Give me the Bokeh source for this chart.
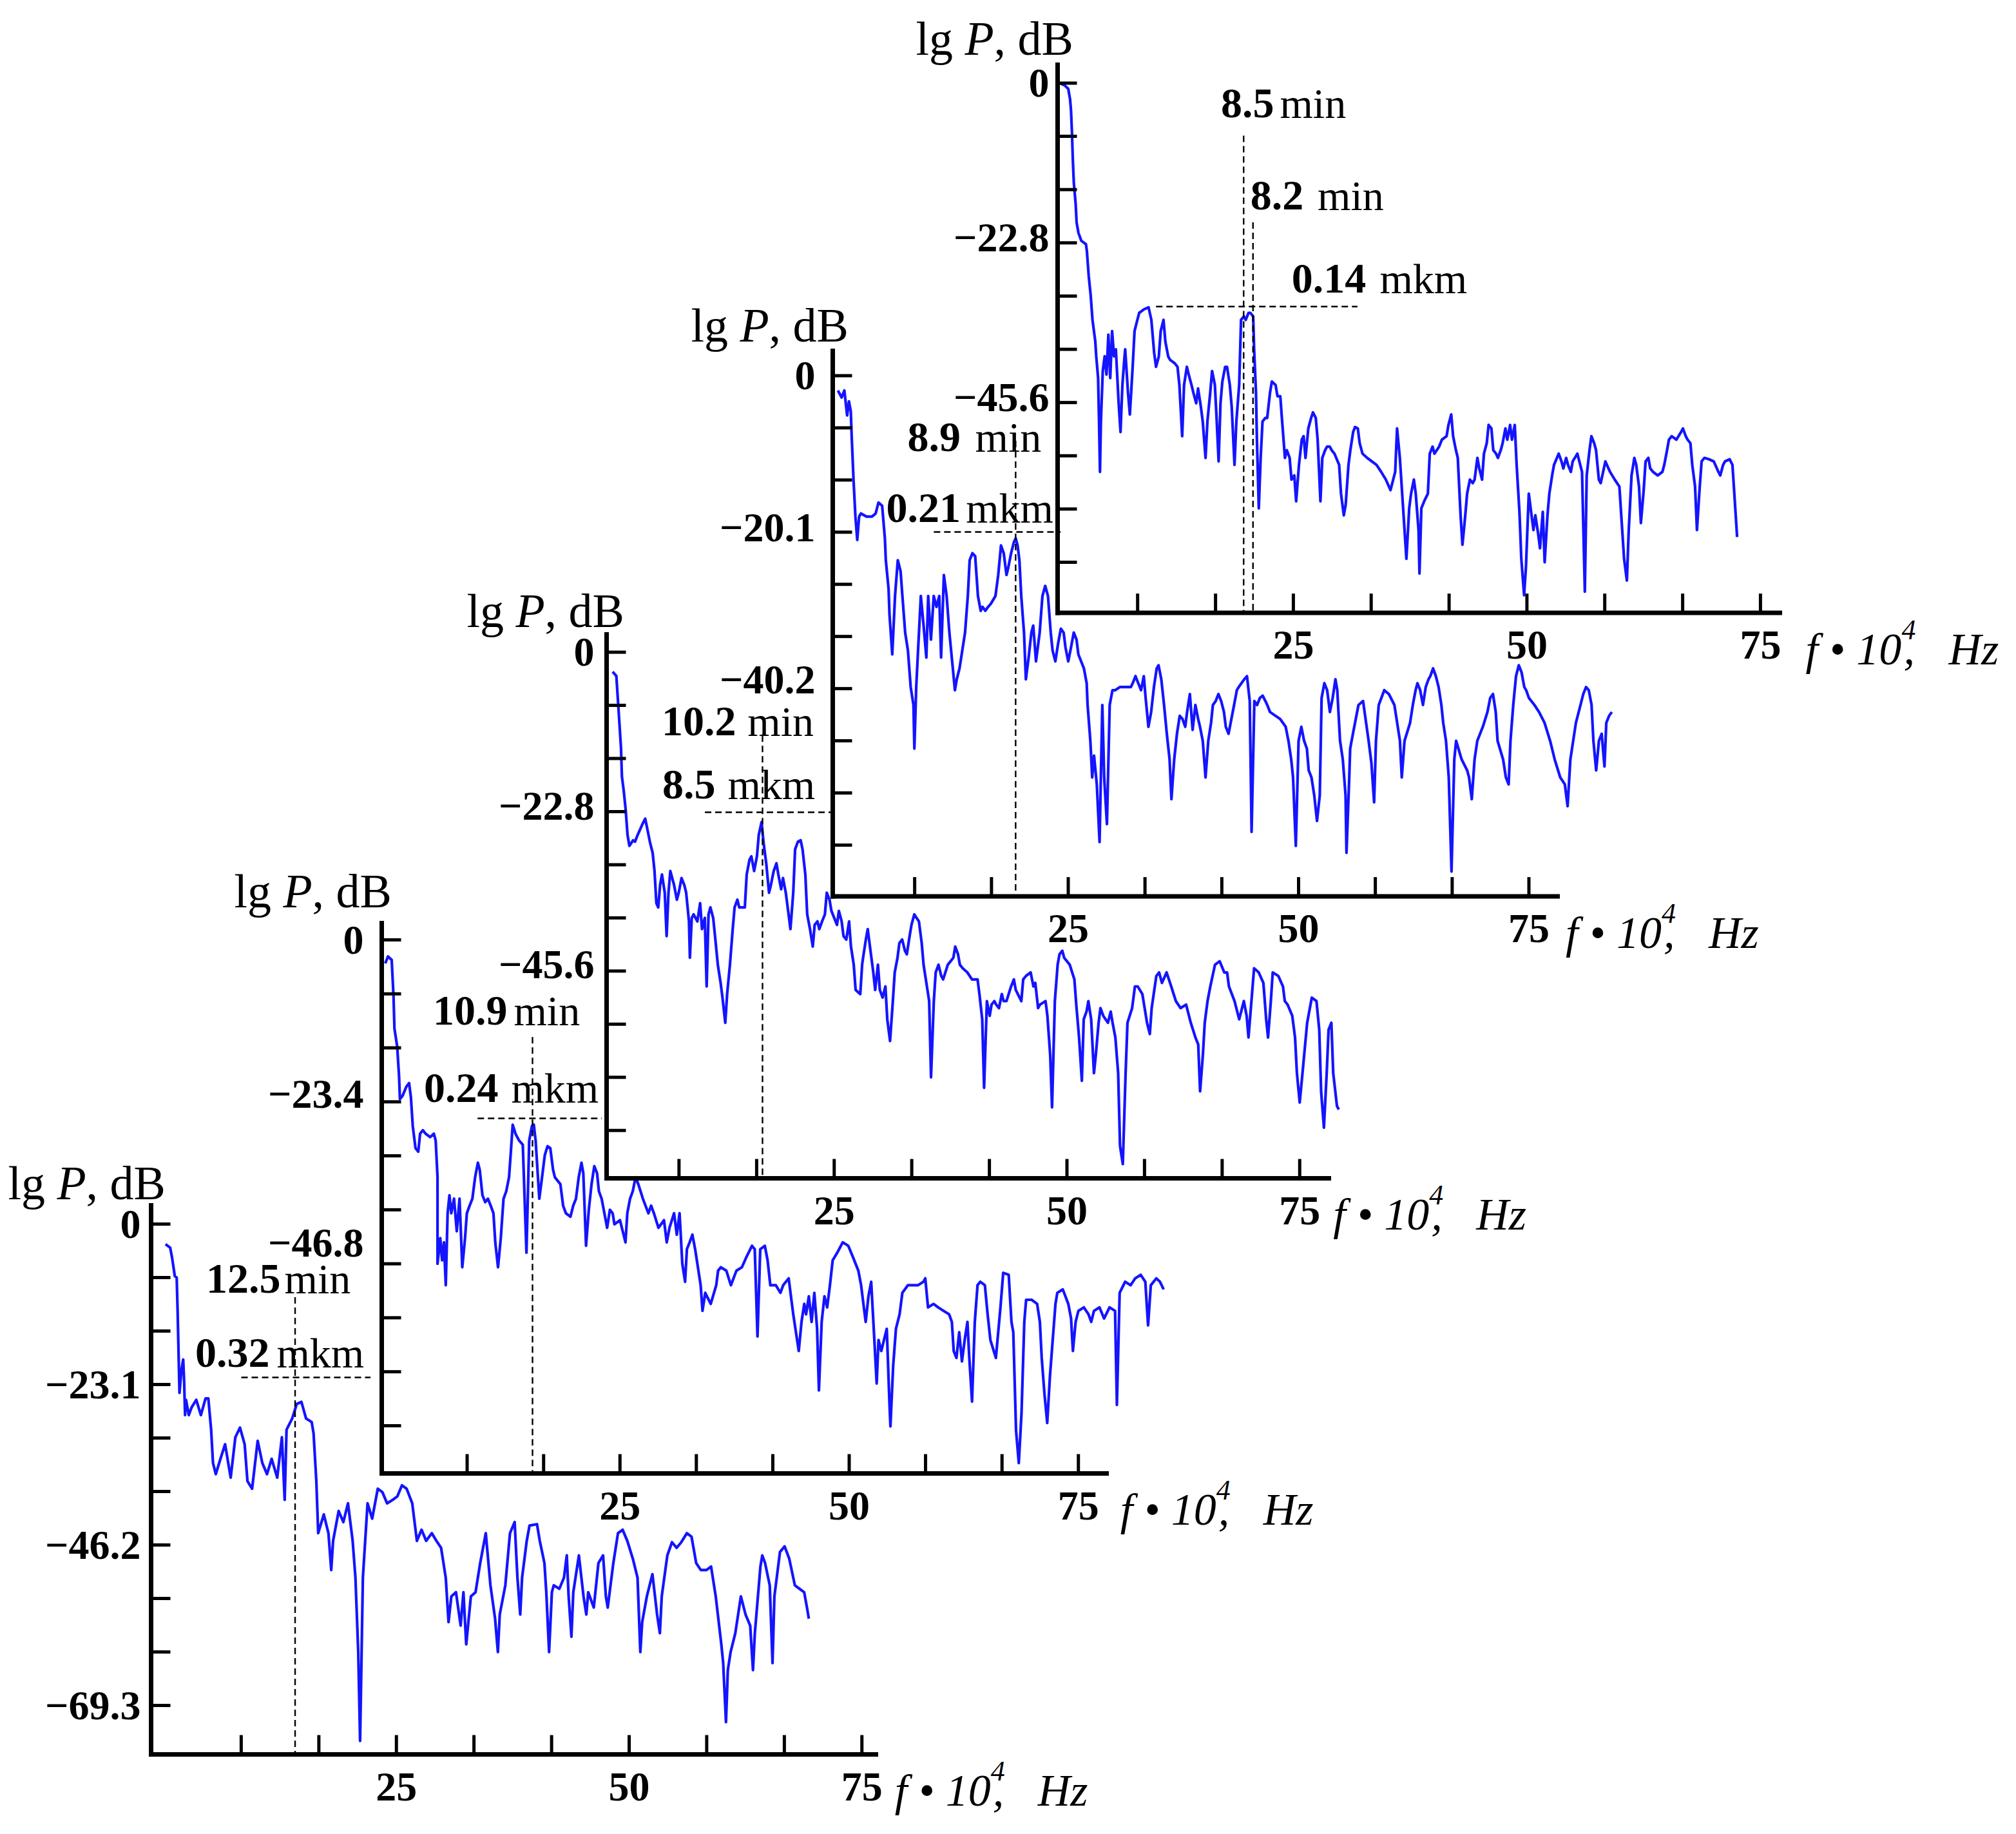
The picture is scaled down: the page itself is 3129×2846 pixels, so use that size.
from bokeh.plotting import figure
from bokeh.models import Range1d
from bokeh.embed import file_html
from bokeh.resources import INLINE
from bokeh.core.properties import value

# ----------------------------------------------------------------- data
# spectra: (f * 1e-4 Hz, lg P dB), one list per panel
P1_SPECTRUM = [(0.2,-2.9),(0.7,-3.4),(0.9,-4.8),(1.2,-7.5),(1.4,-7.7),(1.5,-12.5),(1.6,-18.4),(1.7,-24.3),(1.9,-21.1),(2.1,-19.5),(2.2,-22.7),(2.3,-27.5),(2.4,-25.3),(2.7,-27.5),(3.0,-26.4),(3.5,-25.3),(4.0,-27.5),(4.5,-25.1),(4.8,-25.1),(5.1,-29.6),(5.3,-34.4),(5.6,-36.0),(6.1,-33.8),(6.6,-31.7),(7.2,-36.5),(7.7,-30.7),(8.2,-29.3),(8.7,-31.7),(9.0,-37.0),(9.5,-38.1),(10.1,-31.2),(10.6,-34.4),(11.1,-36.0),(11.6,-33.8),(12.2,-36.5),(12.7,-30.7),(13.0,-39.7),(13.2,-29.6),(13.8,-28.0),(14.3,-25.9),(14.8,-25.6),(15.3,-28.0),(15.9,-28.5),(16.1,-30.1),(16.4,-37.0),(16.6,-44.5),(17.2,-41.8),(17.7,-44.5),(18.0,-49.8),(18.2,-45.6),(18.8,-41.3),(19.3,-42.9),(19.8,-40.2),(20.3,-45.6),(20.6,-50.9),(20.9,-61.6),(21.1,-74.4),(21.4,-50.9),(21.9,-40.2),(22.4,-42.4),(23.0,-38.1),(23.5,-38.6),(24.0,-40.2),(24.6,-39.7),(25.1,-39.2),(25.6,-37.6),(26.1,-38.1),(26.7,-40.2),(27.2,-45.6),(27.7,-44.0),(28.2,-45.6),(28.8,-44.5),(29.3,-45.6),(29.8,-46.6),(30.3,-50.9),(30.6,-57.3),(30.9,-53.6),(31.4,-53.0),(31.9,-57.8),(32.2,-53.0),(32.5,-60.5),(33.0,-53.6),(33.5,-53.0),(34.0,-48.8),(34.6,-44.5),(35.1,-52.0),(35.6,-56.8),(35.9,-61.6),(36.1,-56.2),(36.7,-52.0),(37.2,-44.5),(37.7,-42.9),(38.0,-50.9),(38.3,-56.2),(38.5,-50.9),(39.0,-45.6),(39.3,-43.4),(40.1,-43.2),(40.4,-45.6),(40.9,-48.8),(41.1,-53.0),(41.4,-61.6),(41.7,-53.0),(41.9,-52.0),(42.5,-52.5),(43.0,-50.9),(43.3,-47.7),(43.5,-53.6),(43.8,-59.4),(44.0,-53.0),(44.6,-47.7),(45.1,-53.6),(45.4,-56.2),(45.6,-53.0),(46.2,-55.2),(46.7,-48.8),(47.2,-47.7),(47.5,-53.6),(47.7,-55.2),(48.3,-48.8),(48.8,-44.5),(49.3,-44.0),(49.8,-45.6),(50.4,-48.2),(50.9,-50.9),(51.2,-61.6),(51.4,-57.3),(51.9,-53.6),(52.5,-50.4),(53.0,-56.2),(53.3,-58.9),(53.5,-53.6),(54.1,-47.7),(54.6,-45.8),(55.1,-46.6),(55.6,-45.8),(56.2,-44.5),(56.7,-45.0),(57.2,-48.8),(57.7,-49.8),(58.3,-49.8),(58.8,-49.3),(59.3,-53.6),(59.9,-60.5),(60.1,-63.2),(60.4,-71.7),(60.6,-64.2),(60.9,-61.6),(61.4,-58.9),(62.0,-53.6),(62.5,-56.2),(63.0,-57.8),(63.3,-64.2),(63.5,-58.9),(64.1,-49.3),(64.3,-47.7),(64.6,-48.8),(65.1,-52.0),(65.4,-63.2),(65.6,-53.6),(66.2,-47.2),(66.7,-46.4),(67.2,-48.2),(67.8,-52.0),(68.3,-52.5),(68.8,-53.0),(69.1,-55.2),(69.3,-56.8)]

P2_SPECTRUM = [(-0.6,-3.4),(-0.3,-2.4),(0.1,-2.9),(0.3,-8.1),(0.4,-12.8),(0.7,-15.4),(0.9,-19.6),(1.0,-23.0),(1.3,-22.5),(1.7,-21.2),(2.0,-20.7),(2.2,-22.8),(2.4,-26.9),(2.7,-30.1),(3.0,-30.6),(3.2,-28.0),(3.5,-27.5),(3.8,-28.0),(4.3,-28.5),(4.7,-28.0),(4.9,-29.0),(5.1,-34.3),(5.1,-46.8),(5.4,-43.1),(5.6,-46.3),(5.8,-43.7),(6.0,-49.9),(6.2,-39.5),(6.4,-36.9),(6.6,-39.5),(6.9,-37.4),(7.2,-42.1),(7.5,-37.4),(7.8,-47.3),(8.1,-43.1),(8.3,-39.5),(8.6,-38.4),(8.9,-37.4),(9.2,-34.3),(9.5,-32.2),(9.7,-33.2),(10.0,-36.9),(10.3,-37.9),(10.6,-37.4),(10.9,-38.4),(11.2,-39.5),(11.4,-43.7),(11.7,-47.3),(12.0,-43.1),(12.3,-37.4),(12.6,-36.3),(12.9,-34.3),(13.1,-30.6),(13.3,-26.7),(13.6,-28.0),(14.0,-29.0),(14.4,-29.6),(14.8,-45.2),(15.1,-29.0),(15.4,-26.9),(15.6,-26.7),(15.8,-29.0),(16.2,-37.4),(16.5,-34.3),(16.8,-31.1),(17.1,-29.8),(17.4,-30.1),(17.7,-33.2),(17.9,-34.3),(18.5,-35.3),(18.8,-38.4),(19.1,-39.5),(19.6,-40.0),(19.9,-38.4),(20.2,-37.4),(20.5,-34.3),(20.8,-32.2),(21.0,-33.7),(21.3,-44.2),(21.6,-39.0),(21.9,-35.3),(22.2,-32.7),(22.5,-33.7),(22.7,-36.3),(23.0,-37.4),(23.3,-39.5),(23.6,-41.6),(23.9,-39.0),(24.2,-39.5),(24.4,-41.1),(25.0,-40.5),(25.6,-43.7),(25.8,-39.5),(26.1,-37.4),(26.4,-36.3),(26.7,-34.3),(27.0,-35.3),(27.5,-37.4),(28.1,-39.5),(28.4,-38.4),(28.7,-39.5),(29.2,-41.6),(29.8,-40.5),(30.1,-43.7),(30.4,-41.6),(30.9,-39.5),(31.2,-42.6),(31.5,-39.5),(31.8,-46.8),(32.1,-49.4),(32.3,-44.7),(32.6,-43.7),(32.9,-42.6),(33.2,-44.7),(33.8,-49.9),(34.0,-53.6),(34.3,-51.0),(34.9,-52.6),(35.5,-49.9),(35.7,-47.8),(36.0,-47.3),(36.6,-47.8),(37.1,-49.9),(37.7,-47.8),(38.3,-47.3),(38.8,-45.8),(39.4,-44.2),(39.7,-44.7),(40.0,-57.3),(40.3,-44.7),(40.8,-44.2),(41.1,-46.3),(41.4,-49.9),(42.0,-49.9),(42.5,-51.0),(42.8,-49.9),(43.4,-48.9),(43.6,-51.0),(43.9,-54.1),(44.5,-59.4),(44.8,-55.2),(45.1,-52.6),(45.3,-54.1),(45.6,-51.5),(45.9,-55.2),(46.2,-51.0),(46.5,-56.2),(46.7,-65.1),(47.0,-55.2),(47.3,-51.5),(47.6,-53.1),(47.9,-49.9),(48.2,-46.3),(48.7,-45.2),(49.3,-43.7),(49.9,-44.2),(50.4,-45.8),(51.0,-47.8),(51.3,-49.9),(51.6,-53.1),(51.8,-55.2),(52.1,-51.5),(52.4,-49.4),(52.7,-56.7),(53.0,-64.1),(53.2,-57.8),(53.5,-59.4),(54.1,-56.2),(54.4,-67.2),(54.5,-70.3),(54.8,-61.5),(55.1,-56.2),(55.5,-54.1),(55.8,-51.0),(56.4,-49.9),(56.9,-49.9),(57.5,-49.9),(58.1,-49.4),(58.3,-48.9),(58.6,-53.1),(59.2,-52.6),(59.7,-53.1),(60.3,-53.6),(60.9,-54.1),(61.2,-55.2),(61.4,-59.4),(61.7,-60.4),(62.0,-56.7),(62.3,-60.9),(62.6,-57.8),(62.9,-55.2),(63.1,-60.4),(63.4,-66.7),(63.7,-55.2),(64.0,-49.9),(64.3,-49.4),(64.8,-49.9),(65.1,-54.1),(65.4,-57.8),(66.0,-60.4),(66.5,-53.1),(66.8,-48.1),(67.4,-48.4),(67.7,-55.2),(67.9,-56.7),(68.2,-70.9),(68.5,-75.6),(68.8,-68.3),(69.1,-55.2),(69.3,-52.0),(69.9,-52.0),(70.5,-52.6),(70.8,-55.2),(71.0,-60.4),(71.3,-65.6),(71.6,-69.8),(71.9,-63.0),(72.2,-57.8),(72.5,-52.6),(72.7,-51.0),(73.3,-50.5),(73.9,-52.6),(74.2,-54.7),(74.4,-59.4),(74.7,-55.2),(75.0,-53.6),(75.6,-53.1),(76.1,-54.1),(76.4,-55.2),(76.7,-53.6),(77.3,-53.1),(77.8,-54.7),(78.4,-53.1),(79.0,-53.6),(79.2,-67.2),(79.5,-51.0),(80.1,-49.4),(80.7,-49.9),(81.2,-48.9),(81.8,-48.4),(82.3,-49.4),(82.6,-55.7),(82.9,-49.9),(83.5,-48.9),(83.9,-49.4),(84.3,-50.5)]

P3_SPECTRUM = [(1.2,-2.8),(1.6,-3.4),(1.8,-7.5),(2.1,-13.7),(2.2,-17.8),(2.4,-19.9),(2.6,-22.5),(2.8,-26.1),(3.0,-27.7),(3.4,-26.9),(3.6,-27.1),(3.9,-26.1),(4.4,-24.6),(4.7,-23.8),(4.9,-25.1),(5.2,-27.1),(5.5,-28.7),(5.7,-31.3),(5.9,-35.9),(6.1,-36.5),(6.3,-33.3),(6.5,-31.8),(6.8,-34.4),(7.0,-40.6),(7.2,-34.4),(7.4,-31.3),(7.8,-33.3),(8.1,-35.4),(8.3,-34.4),(8.6,-32.3),(8.9,-33.3),(9.1,-34.4),(9.4,-38.5),(9.5,-43.7),(9.7,-38.0),(9.9,-37.5),(10.3,-38.5),(10.6,-35.9),(10.8,-39.6),(11.1,-38.0),(11.3,-47.8),(11.5,-37.5),(11.7,-36.5),(12.0,-38.0),(12.2,-40.6),(12.5,-44.7),(12.8,-47.3),(13.0,-49.4),(13.3,-53.0),(13.5,-48.9),(13.8,-44.7),(14.1,-39.6),(14.3,-36.5),(14.6,-35.4),(14.8,-36.5),(15.4,-36.5),(15.6,-31.8),(15.9,-29.7),(16.1,-29.2),(16.4,-31.3),(16.7,-29.2),(16.9,-26.1),(17.2,-24.3),(17.4,-27.1),(17.7,-30.2),(18.0,-34.4),(18.2,-33.3),(18.5,-31.3),(18.8,-30.2),(19.0,-31.8),(19.3,-33.9),(19.5,-32.3),(19.8,-34.4),(20.1,-37.5),(20.3,-39.6),(20.6,-34.4),(20.8,-28.2),(21.1,-27.1),(21.4,-26.9),(21.6,-28.2),(21.9,-31.8),(22.1,-37.5),(22.4,-39.6),(22.7,-42.1),(22.9,-39.0),(23.2,-38.5),(23.4,-39.6),(23.7,-38.5),(24.0,-37.5),(24.2,-34.4),(24.5,-35.4),(24.7,-37.0),(25.0,-38.0),(25.3,-39.0),(25.5,-37.0),(25.8,-38.5),(26.0,-40.6),(26.3,-41.1),(26.6,-38.5),(26.8,-42.1),(27.1,-44.7),(27.3,-48.3),(27.8,-48.9),(28.0,-44.7),(28.1,-43.7),(28.4,-41.1),(28.6,-39.6),(28.9,-42.7),(29.2,-45.8),(29.4,-48.3),(29.7,-44.7),(29.9,-48.3),(30.2,-49.4),(30.5,-47.8),(30.7,-52.5),(31.0,-55.6),(31.3,-49.9),(31.5,-45.8),(31.8,-43.7),(32.0,-41.6),(32.3,-41.1),(32.6,-42.7),(32.8,-43.2),(33.1,-40.6),(33.3,-39.0),(33.6,-37.5),(34.1,-38.5),(34.4,-41.6),(34.6,-44.7),(34.9,-47.3),(35.2,-49.9),(35.4,-60.8),(35.7,-49.9),(35.9,-45.8),(36.2,-44.7),(36.5,-46.3),(36.7,-46.8),(37.2,-44.7),(37.8,-43.7),(38.0,-42.1),(38.3,-43.2),(38.5,-44.7),(38.8,-45.2),(39.3,-45.8),(39.8,-46.8),(40.4,-46.8),(40.6,-48.9),(40.9,-52.5),(41.1,-62.3),(41.4,-49.9),(41.7,-52.0),(41.9,-50.4),(42.2,-49.9),(42.4,-50.4),(42.7,-50.9),(43.0,-48.9),(43.2,-49.9),(43.5,-49.9),(44.0,-47.8),(44.3,-46.8),(44.5,-48.3),(45.1,-49.9),(45.3,-46.8),(45.6,-46.3),(46.1,-45.8),(46.4,-47.8),(46.6,-47.3),(46.9,-50.9),(47.1,-50.4),(47.7,-49.9),(47.9,-52.0),(48.2,-57.6),(48.4,-65.1),(48.7,-49.9),(49.0,-44.7),(49.2,-43.2),(49.5,-42.7),(49.7,-43.7),(50.3,-44.7),(50.8,-46.8),(51.0,-50.4),(51.3,-55.1),(51.6,-61.3),(51.8,-52.5),(52.1,-51.4),(52.3,-49.9),(52.6,-52.5),(52.9,-60.2),(53.1,-57.6),(53.4,-53.0),(53.6,-50.9),(53.9,-52.0),(54.4,-53.0),(54.7,-51.4),(54.9,-53.0),(55.2,-55.1),(55.5,-60.2),(55.7,-70.6),(56.0,-73.2),(56.3,-60.2),(56.5,-53.0),(57.0,-50.9),(57.3,-47.8),(57.6,-47.8),(58.1,-48.9),(58.6,-53.0),(58.9,-54.6),(59.1,-50.9),(59.6,-46.3),(59.9,-45.8),(60.2,-47.3),(60.7,-45.8),(61.2,-47.8),(61.7,-49.9),(62.2,-50.9),(62.8,-50.4),(63.3,-53.0),(63.8,-55.1),(64.1,-56.1),(64.3,-62.8),(64.6,-57.6),(64.8,-53.0),(65.1,-49.9),(65.4,-47.8),(65.9,-44.7),(66.4,-44.2),(66.9,-45.8),(67.2,-45.8),(67.4,-47.8),(68.0,-49.9),(68.5,-52.5),(69.0,-49.9),(69.3,-52.0),(69.5,-55.1),(70.1,-45.2),(70.6,-45.8),(71.1,-47.3),(71.4,-52.5),(71.6,-55.1),(71.9,-49.9),(72.1,-45.8),(72.7,-46.3),(73.2,-47.8),(73.4,-49.9),(73.7,-50.4),(74.2,-52.0),(74.5,-55.1),(74.7,-60.2),(75.0,-64.4),(75.3,-60.2),(75.8,-53.0),(76.3,-49.4),(76.8,-49.9),(77.1,-54.0),(77.3,-62.8),(77.6,-68.0),(77.9,-60.2),(78.1,-54.0),(78.4,-53.0),(78.6,-60.2),(79.0,-64.9),(79.2,-65.4)]

P4_SPECTRUM = [(0.0,-1.9),(0.4,-2.8),(0.7,-1.9),(1.0,-5.1),(1.2,-3.3),(1.4,-4.6),(1.5,-7.9),(1.7,-13.5),(1.8,-15.8),(1.9,-18.1),(2.1,-21.1),(2.3,-18.1),(2.5,-17.7),(3.1,-18.1),(3.7,-18.1),(4.1,-17.7),(4.4,-16.3),(4.8,-16.7),(5.1,-20.9),(5.2,-23.7),(5.5,-27.4),(5.6,-30.7),(5.9,-35.8),(6.2,-28.3),(6.5,-23.7),(6.8,-25.1),(7.0,-28.3),(7.3,-33.0),(7.6,-35.3),(7.9,-40.0),(8.2,-42.3),(8.3,-47.9),(8.5,-40.0),(8.7,-35.3),(9.0,-28.3),(9.3,-32.1),(9.6,-36.2),(9.8,-28.3),(10.1,-33.9),(10.4,-28.3),(10.7,-29.7),(11.0,-28.3),(11.2,-36.2),(11.5,-25.6),(11.8,-28.3),(12.1,-33.0),(12.4,-36.7),(12.7,-40.4),(12.9,-39.0),(13.2,-37.6),(13.5,-35.3),(13.8,-33.0),(14.1,-28.3),(14.3,-23.7),(14.6,-22.8),(14.9,-23.2),(15.2,-28.3),(15.5,-30.2),(15.7,-29.7),(16.0,-30.2),(16.3,-29.7),(16.6,-29.3),(17.1,-28.3),(17.4,-25.6),(17.7,-21.8),(18.0,-22.8),(18.3,-25.6),(18.5,-24.6),(18.8,-22.8),(19.1,-21.4),(19.3,-20.9),(19.5,-21.8),(19.7,-23.7),(19.9,-28.3),(20.2,-33.0),(20.4,-39.0),(20.7,-36.2),(21.0,-33.0),(21.2,-32.1),(21.5,-36.7),(21.9,-33.0),(22.2,-28.3),(22.5,-27.0),(22.8,-28.3),(23.1,-33.0),(23.3,-35.3),(23.6,-36.7),(23.9,-34.4),(24.2,-32.5),(24.5,-33.0),(24.7,-34.9),(25.0,-36.7),(25.3,-34.9),(25.6,-33.0),(25.9,-33.9),(26.1,-35.8),(26.4,-36.7),(26.7,-37.6),(27.0,-39.5),(27.1,-42.3),(27.4,-46.9),(27.6,-51.6),(27.8,-48.8),(28.1,-52.5),(28.4,-59.9),(28.7,-42.3),(28.9,-51.6),(29.2,-57.6),(29.5,-42.3),(29.8,-40.4),(30.1,-40.4),(30.6,-40.0),(31.2,-40.0),(31.8,-40.0),(32.0,-39.5),(32.3,-38.6),(32.6,-39.5),(32.9,-40.4),(33.2,-38.6),(33.4,-41.4),(33.7,-45.1),(34.0,-43.2),(34.3,-40.0),(34.6,-37.6),(34.8,-37.2),(35.1,-39.0),(35.4,-42.3),(35.7,-46.0),(36.0,-49.3),(36.2,-54.4),(36.5,-49.3),(36.8,-46.0),(37.1,-43.7),(37.4,-44.1),(37.7,-45.1),(37.9,-43.2),(38.2,-40.9),(38.5,-45.5),(38.8,-42.3),(39.1,-44.1),(39.3,-45.1),(39.6,-46.9),(39.9,-51.6),(40.2,-46.9),(40.5,-44.6),(40.7,-42.3),(41.0,-41.8),(41.3,-40.9),(41.6,-41.8),(41.9,-43.2),(42.1,-45.1),(42.4,-46.0),(43.0,-42.3),(43.3,-40.4),(43.5,-40.0),(43.8,-39.5),(44.1,-39.0),(44.4,-38.6),(44.7,-41.8),(44.9,-58.6),(45.2,-41.8),(45.5,-42.3),(45.8,-41.4),(46.1,-41.1),(46.4,-41.8),(46.6,-42.3),(46.9,-43.2),(47.5,-43.7),(48.0,-44.1),(48.6,-45.1),(48.9,-46.9),(49.2,-49.3),(49.4,-51.6),(49.7,-60.4),(50.0,-46.9),(50.3,-45.1),(50.6,-46.9),(50.9,-47.9),(51.1,-50.7),(51.4,-51.6),(51.7,-53.9),(52.0,-57.2),(52.3,-53.9),(52.5,-41.4),(52.8,-39.5),(53.1,-40.4),(53.4,-43.2),(53.7,-41.4),(54.0,-39.0),(54.2,-40.4),(54.5,-46.9),(54.8,-49.3),(55.1,-53.9),(55.2,-61.3),(55.5,-51.6),(55.6,-47.9),(55.9,-46.0),(56.5,-42.3),(57.0,-41.8),(57.6,-46.9),(57.9,-49.7),(58.2,-54.8),(58.4,-46.9),(58.7,-42.3),(59.3,-40.4),(59.8,-40.9),(60.4,-42.3),(60.7,-44.6),(61.0,-46.9),(61.2,-51.6),(61.5,-46.9),(62.1,-44.6),(62.4,-42.3),(62.7,-40.4),(62.9,-39.5),(63.2,-40.4),(63.5,-42.3),(63.8,-40.0),(64.1,-39.0),(64.3,-38.6),(64.6,-37.6),(64.9,-38.6),(65.2,-40.0),(65.5,-42.3),(65.7,-44.6),(66.0,-46.9),(66.3,-51.6),(66.6,-63.7),(66.9,-49.3),(67.1,-46.9),(67.7,-49.3),(68.3,-50.7),(68.5,-51.6),(68.8,-54.4),(69.1,-49.3),(69.4,-46.9),(70.0,-45.1),(70.5,-43.2),(70.8,-41.4),(71.1,-40.9),(71.4,-43.2),(71.6,-46.9),(72.2,-49.3),(72.5,-51.6),(72.8,-52.5),(73.0,-46.9),(73.3,-42.3),(73.6,-38.6),(73.9,-37.2),(74.2,-38.1),(74.5,-40.0),(74.7,-40.4),(75.0,-41.4),(75.6,-42.3),(76.1,-43.2),(76.7,-44.6),(77.3,-46.9),(77.8,-49.3),(78.4,-51.6),(78.9,-52.5),(79.2,-55.3),(79.5,-49.3),(80.1,-44.6),(80.6,-42.3),(80.9,-40.9),(81.2,-40.0),(81.5,-40.4),(81.8,-42.3),(82.0,-46.9),(82.3,-50.7),(82.6,-46.9),(82.9,-46.0),(83.2,-50.2),(83.4,-44.6),(83.7,-43.7),(84.0,-43.2)]

P5_SPECTRUM = [(0.0,0.0),(0.5,-0.3),(0.9,-0.8),(1.1,-2.3),(1.2,-3.9),(1.3,-7.0),(1.4,-11.1),(1.5,-14.2),(1.7,-17.3),(1.8,-19.9),(2.0,-21.4),(2.3,-22.5),(2.8,-23.0),(2.9,-24.0),(3.1,-27.6),(3.3,-30.2),(3.5,-33.8),(3.8,-36.9),(3.9,-39.0),(4.1,-42.1),(4.2,-48.3),(4.3,-55.5),(4.4,-48.3),(4.6,-41.1),(4.8,-39.0),(5.0,-41.6),(5.2,-35.9),(5.4,-42.1),(5.6,-35.4),(5.8,-39.0),(6.0,-38.0),(6.3,-45.7),(6.5,-49.8),(6.7,-43.1),(6.9,-39.5),(7.0,-38.0),(7.3,-44.2),(7.5,-47.3),(7.8,-40.5),(8.0,-35.4),(8.3,-33.8),(8.5,-32.8),(9.0,-32.3),(9.5,-32.0),(9.8,-33.8),(10.1,-38.5),(10.3,-40.5),(10.6,-39.0),(10.8,-35.4),(11.1,-33.8),(11.3,-36.9),(11.6,-39.0),(11.8,-39.5),(12.3,-40.0),(12.6,-40.5),(12.8,-43.1),(13.1,-50.4),(13.3,-43.1),(13.6,-40.5),(13.8,-41.6),(14.1,-43.1),(14.3,-44.2),(14.6,-45.7),(14.8,-43.6),(15.1,-46.2),(15.3,-48.3),(15.6,-53.5),(15.8,-48.3),(16.1,-44.2),(16.3,-41.1),(16.6,-43.1),(16.8,-48.3),(17.0,-54.0),(17.2,-45.7),(17.4,-42.6),(17.7,-40.5),(17.9,-40.5),(18.2,-43.1),(18.4,-46.2),(18.7,-54.5),(18.9,-48.3),(19.2,-43.1),(19.4,-33.8),(19.7,-33.3),(19.9,-33.8),(20.2,-32.8),(20.4,-32.8),(20.7,-33.3),(20.8,-38.0),(21.0,-44.2),(21.1,-50.9),(21.3,-60.7),(21.5,-53.5),(21.7,-48.3),(22.0,-47.8),(22.2,-47.8),(22.5,-44.2),(22.7,-42.6),(23.1,-43.1),(23.3,-44.7),(23.6,-44.7),(23.8,-48.3),(24.1,-53.5),(24.3,-52.4),(24.6,-53.5),(24.8,-56.6),(25.1,-56.0),(25.3,-59.7),(25.6,-54.5),(25.9,-50.9),(26.1,-50.4),(26.3,-53.5),(26.6,-49.3),(26.9,-47.8),(27.1,-47.0),(27.4,-47.8),(27.6,-50.9),(27.9,-59.7),(28.1,-53.5),(28.4,-52.4),(28.6,-51.9),(28.9,-51.9),(29.1,-52.4),(29.4,-52.9),(29.9,-54.5),(30.1,-58.6),(30.4,-61.7),(30.6,-60.2),(30.9,-54.5),(31.1,-52.4),(31.4,-49.8),(31.6,-49.1),(31.9,-49.3),(32.1,-51.4),(32.4,-52.9),(32.9,-53.5),(33.4,-54.0),(33.9,-54.5),(34.4,-55.5),(34.9,-56.6),(35.4,-58.1),(35.9,-55.5),(36.1,-49.3),(36.4,-53.5),(36.9,-63.8),(37.1,-67.9),(37.4,-60.7),(37.6,-58.6),(37.9,-56.6),(38.1,-58.6),(38.4,-63.8),(38.5,-70.0),(38.7,-60.7),(39.0,-59.7),(39.4,-58.6),(39.6,-52.9),(39.9,-51.9),(40.1,-52.9),(40.6,-51.9),(40.9,-50.9),(41.4,-50.4),(41.6,-48.8),(41.9,-47.3),(42.1,-50.4),(42.4,-52.4),(42.6,-53.5),(42.9,-61.7),(43.1,-65.9),(43.4,-61.7),(43.6,-58.6),(43.9,-56.6),(44.2,-57.1),(44.4,-56.6),(44.7,-53.5),(44.9,-55.0),(45.2,-56.6),(45.4,-52.9),(45.7,-51.4),(45.9,-48.8),(46.2,-49.3),(46.4,-52.4),(46.7,-52.9),(46.9,-53.5),(47.2,-52.4),(47.4,-51.4),(47.7,-49.3),(47.9,-50.9),(48.2,-48.8),(48.4,-50.9),(48.7,-48.8),(48.9,-54.5),(49.2,-61.2),(49.4,-67.9),(49.7,-73.1),(49.9,-69.0),(50.2,-58.6),(50.4,-60.7),(50.7,-63.8),(50.9,-61.7),(51.2,-64.3),(51.4,-66.4),(51.7,-61.2),(51.9,-68.4),(52.2,-61.7),(52.4,-58.6),(52.7,-56.0),(52.9,-54.5),(53.4,-52.9),(53.7,-54.0),(53.9,-55.0),(54.2,-53.5),(54.4,-54.5),(54.7,-55.5),(54.9,-54.0),(55.4,-52.9),(55.9,-55.5),(56.2,-72.6),(56.4,-56.0),(56.7,-52.4),(56.9,-50.4),(57.2,-51.4),(57.4,-52.4),(57.7,-56.6),(57.9,-57.1),(58.4,-54.0),(58.9,-55.5),(59.4,-56.6),(59.9,-57.6),(60.4,-67.9),(60.7,-71.0),(60.9,-63.8),(61.2,-56.0),(61.5,-53.5),(61.7,-54.5),(62.0,-57.6),(62.2,-62.8),(62.5,-58.1),(62.7,-54.0),(63.0,-53.5),(63.2,-55.0),(63.5,-55.5),(64.0,-56.0),(64.5,-55.5),(64.7,-54.5),(65.0,-52.4),(65.2,-50.9),(65.5,-50.4),(66.0,-50.9),(66.5,-49.8),(66.7,-49.3),(67.0,-50.4),(67.2,-50.9),(67.5,-51.4),(67.7,-54.5),(68.0,-57.6),(68.2,-63.8),(68.5,-57.6),(68.7,-54.0),(69.0,-53.5),(69.5,-53.7),(70.0,-54.0),(70.5,-55.5),(70.7,-56.0),(71.0,-54.5),(71.2,-54.0),(71.7,-53.7),(72.0,-54.5),(72.2,-58.6),(72.5,-64.8)]

# axis ticks and tick labels
X_TICKS = [8.33, 16.67, 25, 33.33, 41.67, 50, 58.33, 66.67, 75]
X_TICK_LABELS = [25, 50, 75]
P1_Y_TICKS = [0, -7.7, -15.4, -23.1, -30.8, -38.5, -46.2, -53.9, -61.6, -69.3]
P2_Y_TICKS = [0, -7.8, -15.6, -23.4, -31.2, -39.0, -46.8, -54.6, -62.4, -70.2]
P3_Y_TICKS = [0, -7.6, -15.2, -22.8, -30.4, -38.0, -45.6, -53.2, -60.8, -68.4]
P4_Y_TICKS = [0, -6.7, -13.4, -20.1, -26.8, -33.5, -40.2, -46.9, -53.6, -60.3]
P5_Y_TICKS = [0, -7.6, -15.2, -22.8, -30.4, -38.0, -45.6, -53.2, -60.8, -68.4]
P1_Y_LABELS = [0, -23.1, -46.2, -69.3]
P2_Y_LABELS = [0, -23.4, -46.8]
P3_Y_LABELS = [0, -22.8, -45.6]
P4_Y_LABELS = [0, -20.1, -40.2]
P5_Y_LABELS = [0, -22.8, -45.6]

# annotations: time / wavelength texts
P1_NOTES = [("12.5", "min"), ("0.32", "mkm")]
P2_NOTES = [("10.9", "min"), ("0.24", "mkm")]
P3_NOTES = [("10.2", "min"), ("8.5", "mkm")]
P4_NOTES = [("8.9", "min"), ("0.21", "mkm")]
P5_NOTES = [("8.5", "min"), ("8.2", "min"), ("0.14", "mkm")]

# ----------------------------------------------------------------- layout
W, H = 3110, 2820
M = 8  # page margin

# f0/sx: pixel of f=0 and px per unit; y0/sy: pixel of 0 dB and px per dB
PANELS = [
    dict(spec=P1_SPECTRUM, yt=P1_Y_TICKS, yl=P1_Y_LABELS, notes=P1_NOTES,
         f0=261.5, sx=14.45, y0=1907.0, sy=10.78, ax=242, ay=2730, aend=1367, atop=1878,
         ygap=16, yshift=[0, 0, 0, 0], xl_dx=51, tl_x=20, tl_base=1843,
         vl=[(14.12, -10.54)], hl=(-22.08, 8.34, 22.22),
         nt=[(12.56, 12.98, -8.9), (11.38, 12.14, -19.57)]),
    dict(spec=P2_SPECTRUM, yt=P2_Y_TICKS, yl=P2_Y_LABELS, notes=P2_NOTES,
         f0=614.0, sx=14.23, y0=1466.0, sy=10.74, ax=600, ay=2294, aend=1725, atop=1440,
         ygap=28, yshift=[0, -12, -32], xl_dx=65, tl_x=371, tl_base=1390,
         vl=[(15.46, -14.04)], hl=(-25.79, 9.47, 23.02),
         nt=[(12.72, 13.42, -11.27), (11.74, 13.14, -22.4)]),
    dict(spec=P3_SPECTRUM, yt=P3_Y_TICKS, yl=P3_Y_LABELS, notes=P3_NOTES,
         f0=941.0, sx=14.45, y0=1019.6, sy=10.85, ax=949, ay=1836, aend=2070, atop=992,
         ygap=19, yshift=[0, -8, -10], xl_dx=52, tl_x=732, tl_base=955,
         vl=[(17.30, -11.9)], hl=(-22.89, 11.11, 24.76),
         nt=[(14.46, 15.70, -10.87), (12.25, 13.56, -19.92)]),
    dict(spec=P4_SPECTRUM, yt=P4_Y_TICKS, yl=P4_Y_LABELS, notes=P4_NOTES,
         f0=1308.0, sx=14.3, y0=590.5, sy=12.08, ax=1300, ay=1398.6, aend=2425, atop=552,
         ygap=27, yshift=[0, -7, -14], xl_dx=57, tl_x=1080, tl_base=512,
         vl=[(19.29, -8.36)], hl=(-20.07, 10.41, 24.17),
         nt=[(13.33, 14.9, -8.82), (13.33, 13.89, -17.89)]),
    dict(spec=P5_SPECTRUM, yt=P5_Y_TICKS, yl=P5_Y_LABELS, notes=P5_NOTES,
         f0=1652.4, sx=14.5, y0=136.5, sy=10.87, ax=1649, ay=958.6, aend=2770, atop=108,
         ygap=13, yshift=[0, -8, -8], xl_dx=70, tl_x=1429, tl_base=67,
         vl=[(19.68, -7.49), (20.68, -19.87)], hl=(-31.9, 10.30, 31.86),
         nt=[(22.94, 23.56, -3.87), (26.1, 27.6, -17.04), (32.79, 34.25, -28.9)]),
]

FONT = value("Liberation Serif")
BLUE = "#1414ff"
NOTE_RAISE = 11      # px
XTITLE_DROP = 56     # px below the x axis (baseline)
XLAB_DROP = 50       # px below the x axis (middle of tick labels)

p = figure(width=W, height=H, output_backend="svg", toolbar_location=None,
           x_axis_type=None, y_axis_type=None, min_border=0,
           x_range=Range1d(0, 1), y_range=Range1d(0, 1))
p.outline_line_color = None
p.background_fill_color = "white"
p.border_fill_color = "white"

xr, yr = {}, {}
for i, pn in enumerate(PANELS):
    xr[f"x{i}"] = Range1d((M - pn["f0"]) / pn["sx"], (M + W - pn["f0"]) / pn["sx"])
    yr[f"y{i}"] = Range1d((pn["y0"] - M - H) / pn["sy"], (pn["y0"] - M) / pn["sy"])
p.extra_x_ranges = xr
p.extra_y_ranges = yr


def minus(v):
    return "0" if v == 0 else ("\u2212" + f"{abs(v):.1f}")


for i, pn in enumerate(PANELS):
    kw = dict(x_range_name=f"x{i}", y_range_name=f"y{i}")
    sx, sy = pn["sx"], pn["sy"]
    fx = lambda X, pn=pn: (X - pn["f0"]) / pn["sx"]
    fy = lambda Y, pn=pn: (pn["y0"] - Y) / pn["sy"]

    # spectrum
    fs = [a for a, b in pn["spec"]]
    ds = [b for a, b in pn["spec"]]
    p.line(x=fs, y=ds, line_color=BLUE, line_width=4.2, line_join="round", **kw)

    ax_f, ax_db = fx(pn["ax"]), fy(pn["ay"])
    top_db, end_f = fy(pn["atop"]), fx(pn["aend"])

    # dashed peak markers
    vx = [v[0] for v in pn["vl"]]
    p.segment(x0=vx, y0=[v[1] for v in pn["vl"]], x1=vx, y1=[ax_db] * len(vx),
              line_color="black", line_width=2.4, line_dash="10 6", **kw)
    hdb, hf0, hf1 = pn["hl"]
    p.segment(x0=[hf0], y0=[hdb], x1=[hf1], y1=[hdb],
              line_color="black", line_width=2.4, line_dash="10 6", **kw)

    # axes
    p.segment(x0=[ax_f, ax_f], y0=[top_db, ax_db], x1=[ax_f, end_f], y1=[ax_db, ax_db],
              line_color="black", line_width=7, line_cap="square", **kw)
    yt = pn["yt"]
    p.segment(x0=[ax_f] * len(yt), y0=yt, x1=[ax_f + 30 / sx] * len(yt), y1=yt,
              line_color="black", line_width=5, **kw)
    p.segment(x0=X_TICKS, y0=[ax_db] * len(X_TICKS), x1=X_TICKS,
              y1=[ax_db + 30 / sy] * len(X_TICKS), line_color="black", line_width=5, **kw)

    # tick labels
    yl = pn["yl"]
    ylab_y = [v - s / sy for v, s in zip(yl, pn["yshift"])]
    p.text(x=[ax_f - pn["ygap"] / sx] * len(yl), y=ylab_y, text=[minus(v) for v in yl],
           text_font=FONT, text_font_style="bold", text_font_size=value("64px"),
           text_align="right", text_baseline="middle", text_color="black", **kw)
    p.text(x=X_TICK_LABELS, y=[ax_db - XLAB_DROP / sy] * len(X_TICK_LABELS),
           text=[str(v) for v in X_TICK_LABELS],
           text_font=FONT, text_font_style="bold", text_font_size=value("64px"),
           text_align="center", text_baseline="middle", text_color="black", **kw)

    # x-axis title  f . 10^4, Hz
    xs0 = 75 + pn["xl_dx"] / sx
    base = ax_db - XTITLE_DROP / sy
    pieces = [("f \u2022 10", 0, 0, "70px"), ("4", 149, 30, "44px"),
              (",", 152, 0, "70px"), ("Hz", 222, 0, "70px")]
    for txt, dx, dy, fsz in pieces:
        p.text(x=[xs0 + dx / sx], y=[base + dy / sy], text=[txt],
               text_font=FONT, text_font_style="italic", text_font_size=value(fsz),
               text_align="left", text_baseline="alphabetic", text_color="black", **kw)

    # y-axis title  lg P, dB
    tx0, tb = fx(pn["tl_x"]), fy(pn["tl_base"])
    for txt, dx, style in [("lg", 0, "normal"), ("P", 76, "italic"), (", dB", 121, "normal")]:
        p.text(x=[tx0 + dx / sx], y=[tb], text=[txt],
               text_font=FONT, text_font_style=style, text_font_size=value("74px"),
               text_align="left", text_baseline="alphabetic", text_color="black", **kw)

    # annotation texts
    for (num, unit), (fr, fl, db) in zip(pn["notes"], pn["nt"]):
        yb = db + NOTE_RAISE / sy
        p.text(x=[fr], y=[yb], text=[num], text_font=FONT, text_font_style="bold",
               text_font_size=value("66px"), text_align="right",
               text_baseline="alphabetic", text_color="black", **kw)
        p.text(x=[fl], y=[yb], text=[unit], text_font=FONT, text_font_style="normal",
               text_font_size=value("66px"), text_align="left",
               text_baseline="alphabetic", text_color="black", **kw)

open("out.html", "w").write(file_html(p, INLINE))
